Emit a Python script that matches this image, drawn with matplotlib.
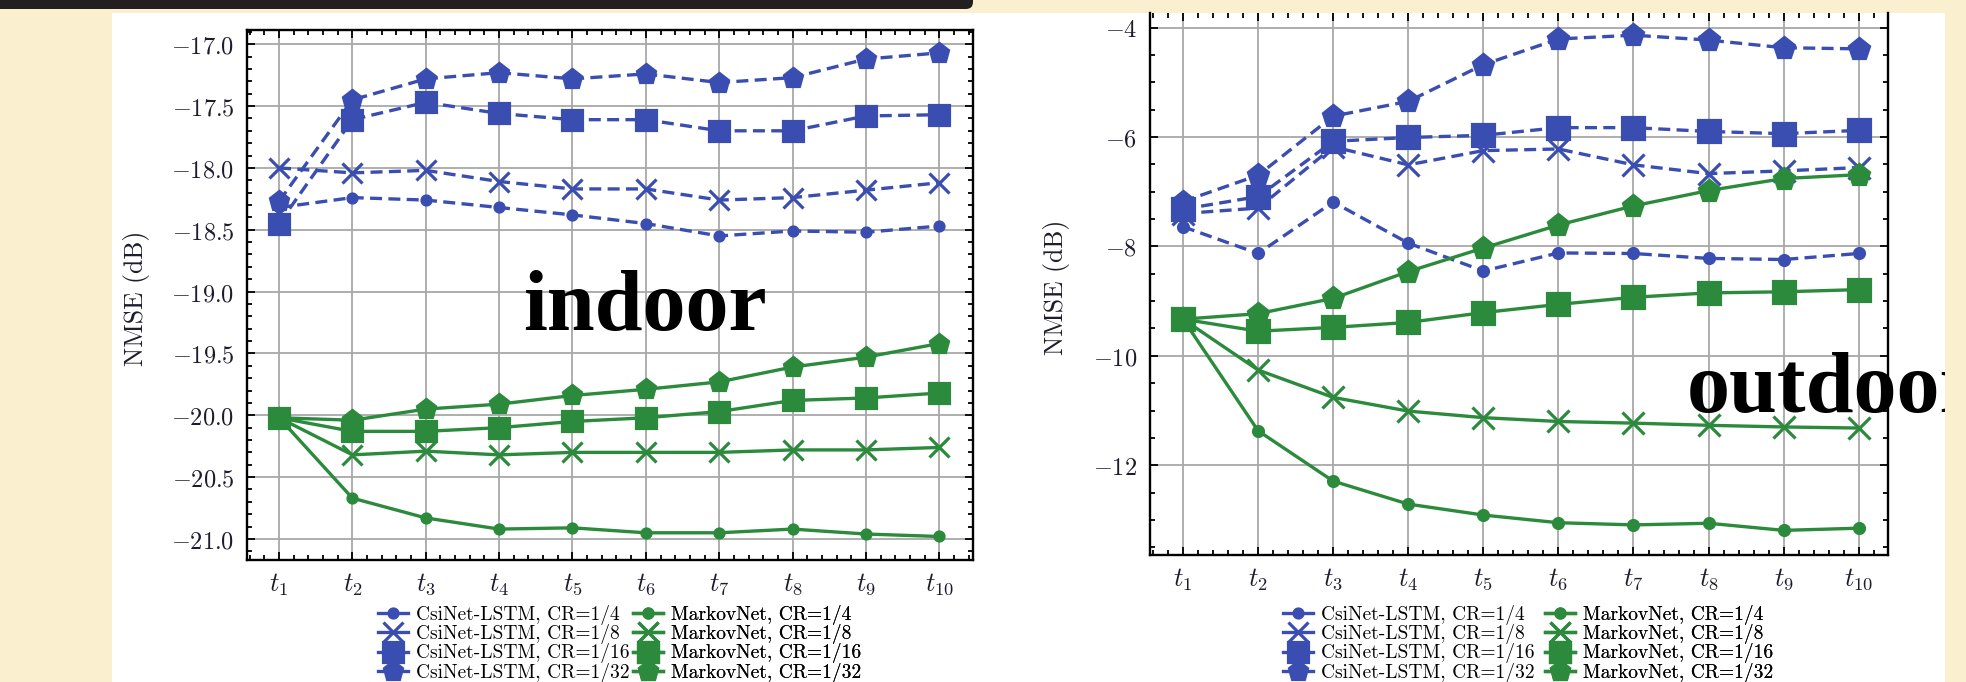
import numpy as np
import matplotlib.pyplot as plt
from matplotlib.patches import Rectangle, FancyBboxPatch
from matplotlib.lines import Line2D
from matplotlib.ticker import MultipleLocator
from matplotlib.transforms import IdentityTransform

plt.rcParams['mathtext.fontset'] = 'cm'

W, H = 1966, 682
cream = '#faf0d0'
blue = '#3a4db0'
green = '#2b8a3c'

steps = list(range(1, 11))
step_labels = [r'$t_{%d}$' % i for i in steps]

cr_labels = ['CR=1/4', 'CR=1/8', 'CR=1/16', 'CR=1/32']

# indoor, NMSE (dB)
indoor_csi_4 = [-18.32, -18.24, -18.26, -18.32, -18.38, -18.45, -18.55, -18.51, -18.52, -18.47]
indoor_csi_8 = [-18.00, -18.04, -18.02, -18.11, -18.17, -18.17, -18.26, -18.24, -18.18, -18.12]
indoor_csi_16 = [-18.45, -17.61, -17.47, -17.56, -17.61, -17.61, -17.70, -17.70, -17.58, -17.57]
indoor_csi_32 = [-18.27, -17.45, -17.28, -17.23, -17.28, -17.24, -17.31, -17.27, -17.12, -17.07]
indoor_mk_4 = [-20.02, -20.67, -20.83, -20.92, -20.91, -20.95, -20.95, -20.92, -20.96, -20.98]
indoor_mk_8 = [-20.02, -20.32, -20.29, -20.32, -20.30, -20.30, -20.30, -20.28, -20.28, -20.26]
indoor_mk_16 = [-20.02, -20.13, -20.13, -20.10, -20.05, -20.02, -19.97, -19.88, -19.86, -19.82]
indoor_mk_32 = [-20.02, -20.04, -19.95, -19.91, -19.84, -19.79, -19.73, -19.61, -19.53, -19.42]

# outdoor, NMSE (dB)
outdoor_csi_4 = [-7.64, -8.13, -7.19, -7.94, -8.45, -8.12, -8.13, -8.22, -8.24, -8.13]
outdoor_csi_8 = [-7.40, -7.30, -6.18, -6.51, -6.25, -6.22, -6.51, -6.67, -6.62, -6.56]
outdoor_csi_16 = [-7.32, -7.09, -6.08, -6.01, -5.97, -5.83, -5.83, -5.90, -5.94, -5.88]
outdoor_csi_32 = [-7.18, -6.70, -5.62, -5.35, -4.68, -4.21, -4.14, -4.23, -4.37, -4.39]
outdoor_mk_4 = [-9.33, -11.37, -12.29, -12.71, -12.91, -13.05, -13.09, -13.06, -13.19, -13.15]
outdoor_mk_8 = [-9.33, -10.26, -10.76, -11.01, -11.13, -11.20, -11.23, -11.27, -11.30, -11.32]
outdoor_mk_16 = [-9.33, -9.55, -9.48, -9.39, -9.21, -9.06, -8.93, -8.85, -8.83, -8.79]
outdoor_mk_32 = [-9.33, -9.23, -8.95, -8.46, -8.03, -7.61, -7.26, -6.98, -6.76, -6.69]

indoor_yticks = [-17.0, -17.5, -18.0, -18.5, -19.0, -19.5, -20.0, -20.5, -21.0]
outdoor_yticks = [-4, -6, -8, -10, -12]

markers = ['o', 'x', 's', 'p']
msizes = [6.5, 14, 15, 14]
dash = (0, (3.6, 1.9))


def px_axes(x0, y0, x1, y1):
    return fig.add_axes([x0 / W, 1 - y1 / H, (x1 - x0) / W, (y1 - y0) / H])


def style_axes(ax, yticks, ylabels, ymin_step):
    ax.set_xticks(steps, labels=step_labels)
    ax.set_yticks(yticks, labels=ylabels)
    ax.xaxis.set_minor_locator(MultipleLocator(0.2))
    ax.yaxis.set_minor_locator(MultipleLocator(ymin_step))
    ax.tick_params(which='both', direction='in', top=True, right=True,
                   width=1.3, colors='black', labelcolor='#1c1c2c')
    ax.tick_params(which='major', length=6, labelsize=17.5)
    ax.tick_params(which='minor', length=3.5)
    ax.tick_params(axis='y', pad=9)
    ax.tick_params(axis='x', pad=8, labelsize=19)
    ax.grid(True, which='major', color='#a8a8a8', lw=1.3)
    ax.set_axisbelow(True)
    for s in ax.spines.values():
        s.set_linewidth(1.7)


def draw_lines(ax, csi, mk, ms_scale):
    for ys, m, ms in zip(csi, markers, msizes):
        ax.plot(steps, ys, color=blue, lw=2.4, linestyle=dash, marker=m,
                markersize=ms * ms_scale, markeredgewidth=2.3, clip_on=False)
    for ys, m, ms in zip(mk, markers, msizes):
        ax.plot(steps, ys, color=green, lw=2.4, marker=m,
                markersize=ms * ms_scale, markeredgewidth=2.3, clip_on=False)


def add_legends(ax, x1, x2, y):
    for name, col, x in [('CsiNet-LSTM', blue, x1), ('MarkovNet', green, x2)]:
        hs = []
        for lab, m, ms in zip(cr_labels, markers, msizes):
            hs.append(Line2D([], [], color=col, lw=2.4, linestyle='-', marker=m,
                             markersize=ms, markeredgewidth=2.3,
                             label='%s, %s' % (name, lab)))
        leg = ax.legend(handles=hs, loc='upper left', bbox_to_anchor=(x / W, 1 - y / H),
                        bbox_transform=fig.transFigure, frameon=False,
                        prop={'family': 'cmr10', 'size': 14}, handlelength=1.55,
                        handletextpad=0.4, labelspacing=-0.04, borderpad=0,
                        borderaxespad=0)
        ax.add_artist(leg)


fig = plt.figure(figsize=(W / 100, H / 100), dpi=100, facecolor=cream)

# white slide panel, dark header strip
fig.add_artist(Rectangle((112, 0), 1945 - 112, H - 13, transform=IdentityTransform(),
                         facecolor='white', edgecolor='none', zorder=-5))
fig.add_artist(FancyBboxPatch((-30, H - 9), 1003, 40, boxstyle='round,pad=0,rounding_size=7',
                              transform=IdentityTransform(), facecolor='#231f20',
                              edgecolor='none', zorder=30))

# indoor panel
ax1 = px_axes(247, 30, 973, 560)
draw_lines(ax1, [indoor_csi_4, indoor_csi_8, indoor_csi_16, indoor_csi_32],
           [indoor_mk_4, indoor_mk_8, indoor_mk_16, indoor_mk_32], 1.0)
ax1.set_xlim(0.563, 10.46)
ax1.set_ylim(-21.17, -16.885)
style_axes(ax1, indoor_yticks, [r'$%.1f$' % v for v in indoor_yticks], 0.1)
fig.text(136 / W, 1 - 298 / H, 'NMSE (dB)', rotation=90, ha='center', va='center',
         family='cmr10', fontsize=18.5, color='#1c1c2c')
add_legends(ax1, 378, 633, 605)
fig.text(645 / W, 1 - 330 / H, 'indoor', ha='center', va='baseline',
         family='Liberation Serif', weight='bold', fontsize=62, color='black', zorder=5)

# outdoor panel
ax2 = px_axes(1150, 13, 1888, 555)
draw_lines(ax2, [outdoor_csi_4, outdoor_csi_8, outdoor_csi_16, outdoor_csi_32],
           [outdoor_mk_4, outdoor_mk_8, outdoor_mk_16, outdoor_mk_32], 1.1)
ax2.set_xlim(0.56, 10.39)
ax2.set_ylim(-13.64, -3.735)
style_axes(ax2, outdoor_yticks, [r'$%d$' % v for v in outdoor_yticks], 0.5)
ax2.spines['top'].set_visible(False)
fig.text(1057 / W, 1 - 287 / H, 'NMSE (dB)', rotation=90, ha='center', va='center',
         family='cmr10', fontsize=18.5, color='#1c1c2c')
add_legends(ax2, 1283, 1545, 605)
fig.text(1687 / W, 1 - 412 / H, 'outdoor', ha='left', va='baseline',
         family='Liberation Serif', weight='bold', fontsize=62, color='black', zorder=5)

# cream margin on the right hides the end of the label
fig.add_artist(Rectangle((1945, 0), W - 1945, H, transform=IdentityTransform(),
                         facecolor=cream, edgecolor='none', zorder=20))

fig.savefig('out.png', dpi=100, facecolor=cream)
